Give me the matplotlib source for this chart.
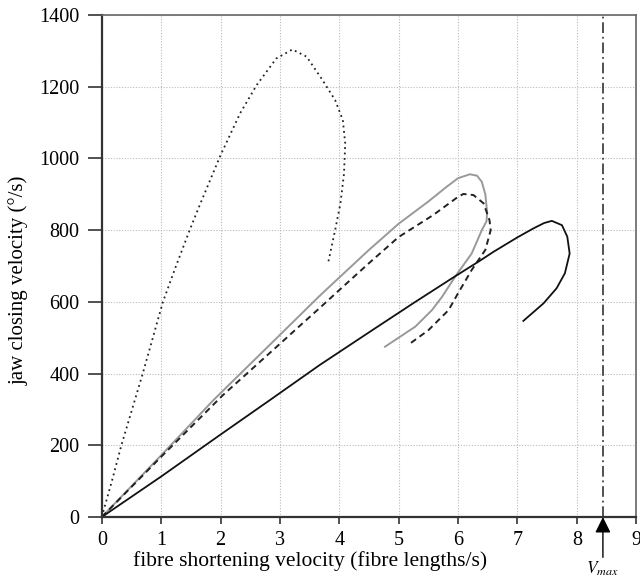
#!/usr/bin/env python3
# Jaw closing velocity against fibre shortening velocity, four traces and Vmax.
import numpy as np
import matplotlib.pyplot as plt

plt.rcParams['font.family'] = ['Liberation Serif', 'DejaVu Serif']
plt.rcParams['mathtext.fontset'] = 'stix'

# dotted trace
dot_x = [0, 0.17, 0.33, 0.51, 0.69, 0.86, 1.03, 1.25, 1.48, 1.65, 2.0, 2.33, 2.61,
         2.94, 3.21, 3.45, 3.70, 3.93, 4.06, 4.1, 4.08, 4.02, 3.93, 3.81]
dot_y = [0, 100, 200, 300, 400, 500, 600, 700, 800, 870, 1009, 1126, 1205,
         1279, 1304, 1284, 1223, 1163, 1107, 1042, 958, 875, 800, 707]

# grey solid trace
grey_x = [0, 1, 1.88, 3, 3.67, 4.0, 4.5, 5.0, 5.5, 5.8, 6.0, 6.2, 6.32, 6.4,
          6.46, 6.49, 6.48, 6.4, 6.23, 5.95, 5.73, 5.56, 5.28, 4.77]
grey_y = [0, 172, 326, 508, 617, 668, 745, 818, 880, 920, 945, 956, 952, 935,
          900, 850, 825, 800, 735, 670, 614, 577, 531, 475]

# dashed trace
dash_x = [0, 1, 2.04, 3.0, 3.34, 3.67, 4.0, 4.5, 5.0, 5.58, 6.0, 6.09, 6.26,
          6.43, 6.53, 6.55, 6.46, 6.23, 6.0, 5.84, 5.5, 5.16]
dash_y = [0, 168, 340, 483, 534, 583, 633, 708, 781, 842, 893, 901, 898,
          875, 828, 800, 745, 689, 624, 577, 521, 480]

# black solid trace
blk_x = [0, 1, 2, 2.83, 3.67, 4.6, 5.28, 5.89, 6.37, 6.6, 7.0, 7.27, 7.45,
         7.58, 7.75, 7.84, 7.88, 7.8, 7.66, 7.44, 7.1]
blk_y = [0, 113, 230, 326, 424, 526, 600, 665, 715, 740, 780, 805, 820,
         826, 814, 782, 735, 680, 638, 596, 547]

v_max = 8.44

fig = plt.figure(figsize=(6.4, 5.79), dpi=100)
ax = fig.add_axes([0.159, 0.107, 0.835, 0.867])

ax.plot(dot_x, dot_y, color='#222222', lw=1.3, ls=(0, (1, 2.0)))
ax.plot(grey_x, grey_y, color='#999999', lw=1.4)
ax.plot(dash_x, dash_y, color='#222222', lw=1.4, ls=(0, (3.2, 2.2)))
ax.plot(blk_x, blk_y, color='#111111', lw=1.3)

ax.axvline(v_max, color='#222222', lw=1.1, dashes=(7, 2.5, 1.2, 2.5))

ax.set_xlim(0, 9)
ax.set_ylim(0, 1400)
ax.set_xticks(np.arange(0, 10, 1))
ax.set_yticks(np.arange(0, 1600, 200))
ax.grid(True, color='#bbbbbb', ls=(0, (1, 1.5)), lw=0.8)
ax.set_axisbelow(True)

for side in ['left', 'bottom']:
    ax.spines[side].set_linewidth(1.6)
    ax.spines[side].set_color('#333333')
for side in ['top', 'right']:
    ax.spines[side].set_linewidth(1.2)
    ax.spines[side].set_color('#666666')

ax.tick_params(axis='y', direction='out', length=10, width=1.2, labelsize=14.5,
               color='#333333', pad=6)
ax.tick_params(axis='x', direction='out', length=5, width=1.2, labelsize=14.5,
               color='#333333', pad=5)

ax.set_xlabel('fibre shortening velocity (fibre lengths/s)', fontsize=15.5)
ax.set_ylabel('jaw closing velocity (°/s)', fontsize=15)
ax.xaxis.set_label_coords(0.39, -0.068)
ax.yaxis.set_label_coords(-0.137, 0.472)

# Vmax arrow under the axis
ax.annotate('', xy=(v_max, 0), xytext=(0, -29), textcoords='offset points',
            xycoords='data', annotation_clip=False,
            arrowprops=dict(arrowstyle='-|>,head_length=0.95,head_width=0.47',
                            color='black', lw=1.0, shrinkA=0, shrinkB=0))
ax.annotate(r'$V_{max}$', xy=(v_max, 0), xytext=(0, -30.5), textcoords='offset points',
            ha='center', va='top', fontsize=12.5, annotation_clip=False)

fig.savefig('out.png', dpi=100)
